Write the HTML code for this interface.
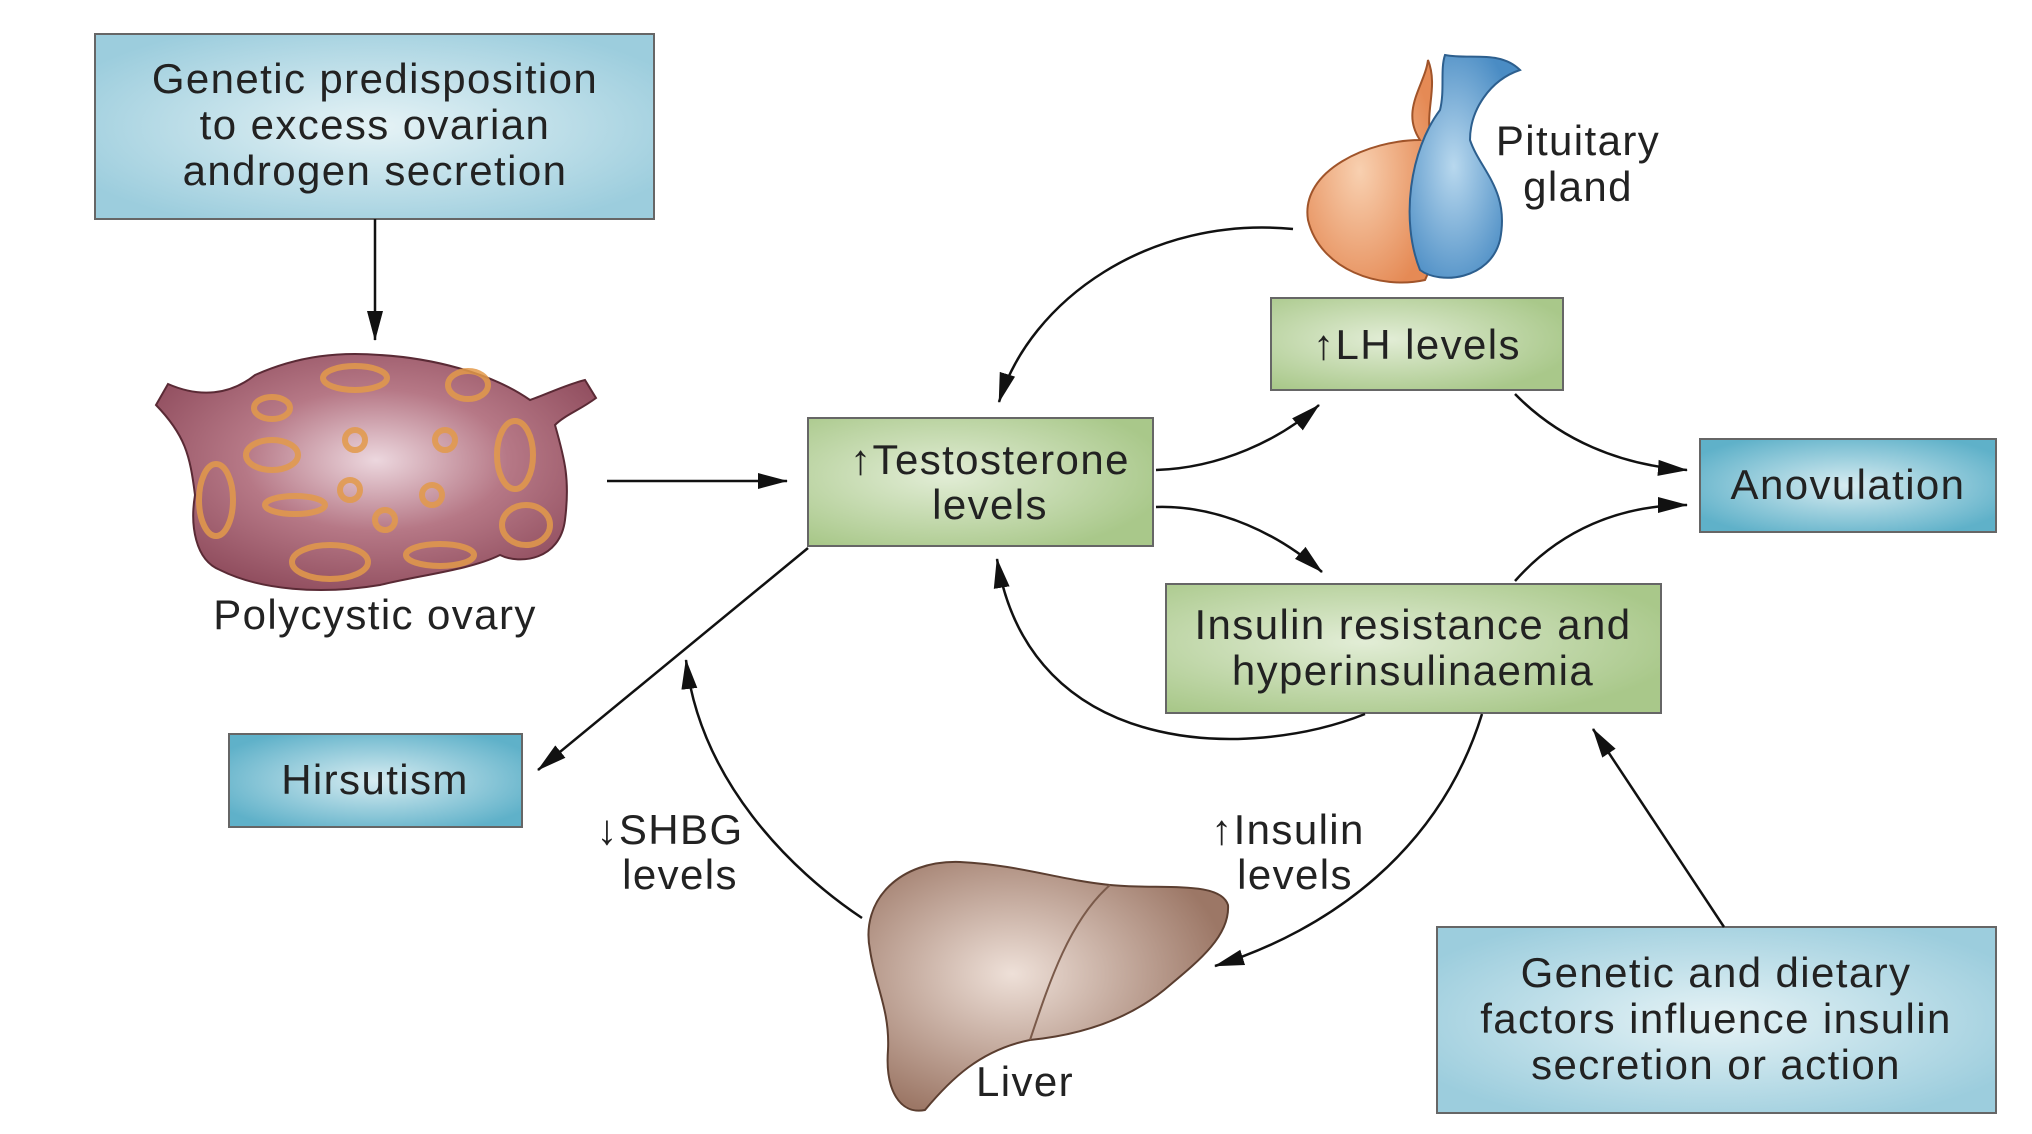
<!DOCTYPE html>
<html><head><meta charset="utf-8"><style>
html,body{margin:0;padding:0;background:#fff;}
svg{display:block;font-family:"Liberation Sans",sans-serif;}
</style></head><body>
<svg width="2032" height="1134" viewBox="0 0 2032 1134" xmlns="http://www.w3.org/2000/svg">
<defs>
<radialGradient id="blue" cx="50%" cy="50%" r="60%"><stop offset="0" stop-color="#e6f3f6"/><stop offset="1" stop-color="#9ccddd"/></radialGradient>
<radialGradient id="blue2" cx="50%" cy="50%" r="60%"><stop offset="0" stop-color="#d7ecf1"/><stop offset="1" stop-color="#5fb1c9"/></radialGradient>
<radialGradient id="green" cx="40%" cy="45%" r="65%"><stop offset="0" stop-color="#e2edd6"/><stop offset="1" stop-color="#a9c88a"/></radialGradient>
<radialGradient id="ovary" cx="50%" cy="45%" r="60%"><stop offset="0" stop-color="#ecd7de"/><stop offset="0.5" stop-color="#b67886"/><stop offset="1" stop-color="#8f4c5d"/></radialGradient>
<radialGradient id="liver" cx="40%" cy="45%" r="60%"><stop offset="0" stop-color="#eee0d8"/><stop offset="1" stop-color="#9c7766"/></radialGradient>
<radialGradient id="orng" cx="40%" cy="50%" r="60%"><stop offset="0" stop-color="#f8d0b0"/><stop offset="1" stop-color="#e58a55"/></radialGradient>
<radialGradient id="blu" cx="40%" cy="50%" r="60%"><stop offset="0" stop-color="#b8d8ee"/><stop offset="1" stop-color="#4a8cc4"/></radialGradient>
<marker id="a" markerWidth="30" markerHeight="20" refX="29" refY="10" orient="auto" markerUnits="userSpaceOnUse"><path d="M0,2 L30,10 L0,18 Z" fill="#111"/></marker>
</defs>
<g stroke="#666" stroke-width="2">
<rect x="95" y="34" width="559" height="185" fill="url(#blue)"/>
<rect x="808" y="418" width="345" height="128" fill="url(#green)"/>
<rect x="1271" y="298" width="292" height="92" fill="url(#green)"/>
<rect x="1700" y="439" width="296" height="93" fill="url(#blue2)"/>
<rect x="1166" y="584" width="495" height="129" fill="url(#green)"/>
<rect x="229" y="734" width="293" height="93" fill="url(#blue2)"/>
<rect x="1437" y="927" width="559" height="186" fill="url(#blue)"/>
</g>
<path d="M156,405 L168,384 C200,398 230,395 255,375 C300,355 340,352 380,355 C430,358 490,372 530,400 C545,395 565,385 585,380 L596,398 C580,410 565,415 555,425 C565,460 570,480 565,520 C560,560 520,565 500,555 C470,570 420,575 380,585 C320,595 260,590 220,570 C195,560 190,525 195,495 C190,455 185,435 156,405 Z" fill="url(#ovary)" stroke="#5a2a35" stroke-width="2"/>
<g fill="none" stroke="#e39a4a" stroke-width="6" opacity="0.85">
<ellipse cx="355" cy="378" rx="32" ry="12"/><ellipse cx="468" cy="385" rx="20" ry="14"/>
<ellipse cx="272" cy="408" rx="18" ry="11"/><ellipse cx="272" cy="455" rx="26" ry="15"/>
<ellipse cx="515" cy="455" rx="18" ry="34"/><ellipse cx="216" cy="500" rx="17" ry="36"/>
<ellipse cx="295" cy="505" rx="30" ry="9"/><ellipse cx="526" cy="525" rx="24" ry="20"/>
<ellipse cx="330" cy="562" rx="38" ry="17"/><ellipse cx="440" cy="555" rx="34" ry="11"/>
<ellipse cx="355" cy="440" rx="10" ry="10"/><ellipse cx="445" cy="440" rx="10" ry="10"/>
<ellipse cx="350" cy="490" rx="10" ry="10"/><ellipse cx="432" cy="495" rx="10" ry="10"/><ellipse cx="385" cy="520" rx="10" ry="10"/>
</g>
<path d="M1420,140 C1400,110 1425,85 1428,60 C1440,90 1420,120 1435,145 C1440,200 1440,250 1425,280 C1380,290 1320,270 1308,220 C1300,170 1370,140 1420,140 Z" fill="url(#orng)" stroke="#a0542a" stroke-width="2"/>
<path d="M1445,55 C1470,60 1500,50 1520,70 C1490,80 1470,110 1470,140 C1480,170 1510,190 1500,240 C1490,280 1440,285 1420,270 C1400,220 1410,150 1440,110 C1445,90 1440,70 1445,55 Z" fill="url(#blu)" stroke="#2d5f8e" stroke-width="2"/>
<path d="M870,950 C860,900 900,860 960,862 C1020,865 1060,880 1110,885 C1160,890 1220,880 1228,905 C1230,935 1200,960 1170,985 C1130,1020 1080,1035 1030,1040 C980,1050 950,1080 925,1110 C900,1115 885,1090 888,1050 C890,1010 875,985 870,950 Z" fill="url(#liver)" stroke="#5b3e30" stroke-width="2"/>
<path d="M1110,885 C1070,920 1050,980 1030,1040" fill="none" stroke="#7a5a4a" stroke-width="2"/>
<g fill="none" stroke="#111" stroke-width="2.5" marker-end="url(#a)">
<path d="M375,219 L375,340"/>
<path d="M607,481 L787,481"/>
<path d="M1293,229 C1150,215 1030,300 999,402"/>
<path d="M1156,470 C1220,468 1280,440 1319,405"/>
<path d="M1156,507 C1220,505 1280,535 1322,572"/>
<path d="M1515,394 C1560,440 1620,465 1687,470"/>
<path d="M1515,581 C1560,530 1620,505 1687,505"/>
<path d="M1365,714 C1250,760 1030,760 997,559"/>
<path d="M808,548 L538,770"/>
<path d="M862,918 C790,870 700,780 686,660"/>
<path d="M1482,714 C1440,850 1330,930 1215,966"/>
<path d="M1724,927 L1593,729"/>
</g>
<g font-size="42" letter-spacing="1.4" fill="#222" text-anchor="middle">
<text x="375" y="93">Genetic predisposition</text>
<text x="375" y="139">to excess ovarian</text>
<text x="375" y="185">androgen secretion</text>
<text x="375" y="629">Polycystic ovary</text>
<text x="990" y="474">↑Testosterone</text>
<text x="990" y="519">levels</text>
<text x="1417" y="359">↑LH levels</text>
<text x="1848" y="499">Anovulation</text>
<text x="1413" y="639">Insulin resistance and</text>
<text x="1413" y="685">hyperinsulinaemia</text>
<text x="375" y="794">Hirsutism</text>
<text x="1716" y="987">Genetic and dietary</text>
<text x="1716" y="1033">factors influence insulin</text>
<text x="1716" y="1079">secretion or action</text>
<text x="1025" y="1096">Liver</text>
<text x="1578" y="155">Pituitary</text>
<text x="1578" y="201">gland</text>
<text x="670" y="844">↓SHBG</text>
<text x="680" y="889">levels</text>
<text x="1288" y="844">↑Insulin</text>
<text x="1295" y="889">levels</text>
</g>
</svg>
</body></html>
